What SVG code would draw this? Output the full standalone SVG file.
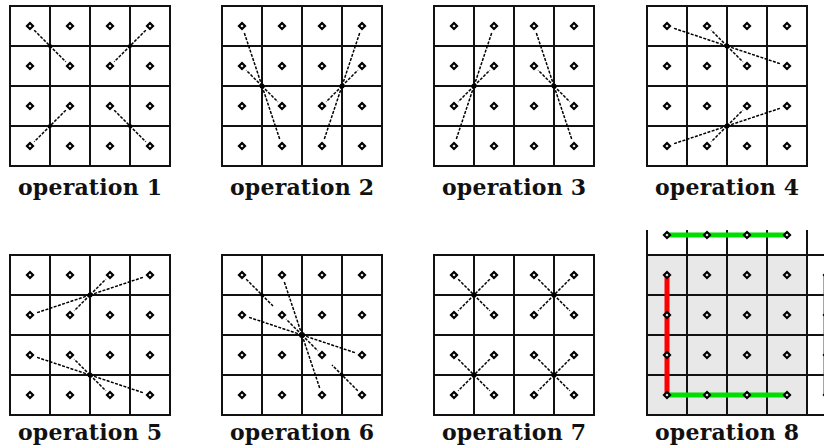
<svg xmlns="http://www.w3.org/2000/svg" xmlns:xlink="http://www.w3.org/1999/xlink" width="824" height="447" viewBox="0 0 824 447">
<style>
.bg{fill:#ffffff}
.gl{stroke:#111;stroke-width:2;fill:none}
.cn{stroke:#000;stroke-width:1.5;stroke-dasharray:3 1.4;fill:none}
.mk{fill:#000}
.dt{fill:#fff;stroke:#000;stroke-width:2.2}
.lbl{font-family:"DejaVu Serif","Liberation Serif",serif;font-weight:bold;font-size:22px;fill:#111;text-anchor:middle}
</style>
<defs>
<path id="dot" class="dt" d="M0,-3 L3,0 L0,3 L-3,0 Z"/>
<g id="grid">
<path class="gl" d="M0,0H160V160H0Z M40,0V160 M80,0V160 M120,0V160 M0,40H160 M0,80H160 M0,120H160"/>
</g>
<g id="dots">
<use xlink:href="#dot" x="20" y="20"/><use xlink:href="#dot" x="60" y="20"/><use xlink:href="#dot" x="100" y="20"/><use xlink:href="#dot" x="140" y="20"/>
<use xlink:href="#dot" x="20" y="60"/><use xlink:href="#dot" x="60" y="60"/><use xlink:href="#dot" x="100" y="60"/><use xlink:href="#dot" x="140" y="60"/>
<use xlink:href="#dot" x="20" y="100"/><use xlink:href="#dot" x="60" y="100"/><use xlink:href="#dot" x="100" y="100"/><use xlink:href="#dot" x="140" y="100"/>
<use xlink:href="#dot" x="20" y="140"/><use xlink:href="#dot" x="60" y="140"/><use xlink:href="#dot" x="100" y="140"/><use xlink:href="#dot" x="140" y="140"/>
</g>
</defs>
<rect class="bg" x="0" y="0" width="824" height="447"/>

<g id="op1" transform="translate(10,6)">
<use xlink:href="#grid"/>
<g id="op1-connectors">
<path class="cn" d="M24.2,24.2L55.8,55.8 M135.8,24.2L104.2,55.8 M55.8,104.2L24.2,135.8 M104.2,104.2L135.8,135.8"/>
<circle class="mk" cx="40" cy="40" r="2"/><circle class="mk" cx="120" cy="40" r="2"/><circle class="mk" cx="40" cy="120" r="2"/><circle class="mk" cx="120" cy="120" r="2"/>
</g>
<use xlink:href="#dots"/>
<text class="lbl" x="80" y="189" textLength="144" lengthAdjust="spacing">operation 1</text>
</g>

<g id="op2" transform="translate(222,6)">
<use xlink:href="#grid"/>
<g id="op2-connectors">
<path class="cn" d="M40,80L21.9,25.7 M40,80L24.2,64.2 M40,80L55.8,95.8 M40,80L58.1,134.3 M120,80L138.1,25.7 M120,80L135.8,64.2 M120,80L104.2,95.8 M120,80L101.9,134.3"/>
<circle class="mk" cx="40" cy="80" r="2.5"/><circle class="mk" cx="120" cy="80" r="2.5"/>
</g>
<use xlink:href="#dots"/>
<text class="lbl" x="80" y="189" textLength="144" lengthAdjust="spacing">operation 2</text>
</g>

<g id="op3" transform="translate(434,6)">
<use xlink:href="#grid"/>
<g id="op3-connectors">
<path class="cn" d="M40,80L58.1,25.7 M40,80L55.8,64.2 M40,80L24.2,95.8 M40,80L21.9,134.3 M120,80L101.9,25.7 M120,80L104.2,64.2 M120,80L135.8,95.8 M120,80L138.1,134.3"/>
<circle class="mk" cx="40" cy="80" r="2.5"/><circle class="mk" cx="120" cy="80" r="2.5"/>
</g>
<use xlink:href="#dots"/>
<text class="lbl" x="80" y="189" textLength="144" lengthAdjust="spacing">operation 3</text>
</g>

<g id="op4" transform="translate(647,6)">
<use xlink:href="#grid"/>
<g id="op4-connectors">
<path class="cn" d="M80,40L25.7,21.9 M80,40L64.2,24.2 M80,40L95.8,55.8 M80,40L134.3,58.1 M80,120L95.8,104.2 M80,120L134.3,101.9 M80,120L25.7,138.1 M80,120L64.2,135.8"/>
<circle class="mk" cx="80" cy="40" r="2.5"/><circle class="mk" cx="80" cy="120" r="2.5"/>
</g>
<use xlink:href="#dots"/>
<text class="lbl" x="80" y="189" textLength="144" lengthAdjust="spacing">operation 4</text>
</g>

<g id="op5" transform="translate(10,255)">
<use xlink:href="#grid"/>
<g id="op5-connectors">
<path class="cn" d="M80,40L95.8,24.2 M80,40L134.3,21.9 M80,40L25.7,58.1 M80,40L64.2,55.8 M80,120L25.7,101.9 M80,120L64.2,104.2 M80,120L95.8,135.8 M80,120L134.3,138.1"/>
<circle class="mk" cx="80" cy="40" r="2.5"/><circle class="mk" cx="80" cy="120" r="2.5"/>
</g>
<use xlink:href="#dots"/>
<text class="lbl" x="80" y="185" textLength="144" lengthAdjust="spacing">operation 5</text>
</g>

<g id="op6" transform="translate(222,255)">
<use xlink:href="#grid"/>
<g id="op6-connectors">
<path class="cn" d="M80,80L61.9,25.7 M80,80L25.7,61.9 M80,80L64.2,64.2 M80,80L95.8,95.8 M80,80L134.3,98.1 M80,80L98.1,134.3 M24.2,24.2L51,51 M135.8,135.8L110,110"/>
<circle class="mk" cx="80" cy="80" r="3"/><circle class="mk" cx="40" cy="40" r="1.8"/><circle class="mk" cx="120" cy="120" r="1.8"/>
</g>
<use xlink:href="#dots"/>
<text class="lbl" x="80" y="185" textLength="144" lengthAdjust="spacing">operation 6</text>
</g>

<g id="op7" transform="translate(434,255)">
<use xlink:href="#grid"/>
<g id="op7-connectors">
<path class="cn" d="M24.2,24.2L55.8,55.8 M55.8,24.2L24.2,55.8 M104.2,24.2L135.8,55.8 M135.8,24.2L104.2,55.8 M24.2,104.2L55.8,135.8 M55.8,104.2L24.2,135.8 M104.2,104.2L135.8,135.8 M135.8,104.2L104.2,135.8"/>
<circle class="mk" cx="40" cy="40" r="2.5"/><circle class="mk" cx="120" cy="40" r="2.5"/><circle class="mk" cx="40" cy="120" r="2.5"/><circle class="mk" cx="120" cy="120" r="2.5"/>
</g>
<use xlink:href="#dots"/>
<text class="lbl" x="80" y="185" textLength="144" lengthAdjust="spacing">operation 7</text>
</g>

<g id="op8" transform="translate(647,255)">
<rect x="0" y="0" width="160" height="160" fill="#e8e8e8"/>
<path class="gl" d="M0,-25V0 M40,-25V0 M80,-25V0 M120,-25V0 M160,-25V0 M160,0H180 M160,40H180 M160,80H180 M160,120H180 M160,160H180"/>
<use xlink:href="#grid"/>
<g id="op8-connectors">
<path d="M20,-20H140" stroke="#00dd00" stroke-width="5" fill="none"/>
<path d="M20,20V140" stroke="#ff0000" stroke-width="5" fill="none"/>
<path d="M20,140H140" stroke="#00dd00" stroke-width="5" fill="none"/>
<path d="M179,20V140" stroke="#ff0000" stroke-width="5" fill="none"/>
</g>
<use xlink:href="#dots"/>
<use xlink:href="#dot" x="20" y="-20"/><use xlink:href="#dot" x="60" y="-20"/><use xlink:href="#dot" x="100" y="-20"/><use xlink:href="#dot" x="140" y="-20"/>
<use xlink:href="#dot" x="180" y="20"/><use xlink:href="#dot" x="180" y="60"/><use xlink:href="#dot" x="180" y="100"/><use xlink:href="#dot" x="180" y="140"/>
<text class="lbl" x="80" y="185" textLength="144" lengthAdjust="spacing">operation 8</text>
</g>
</svg>
